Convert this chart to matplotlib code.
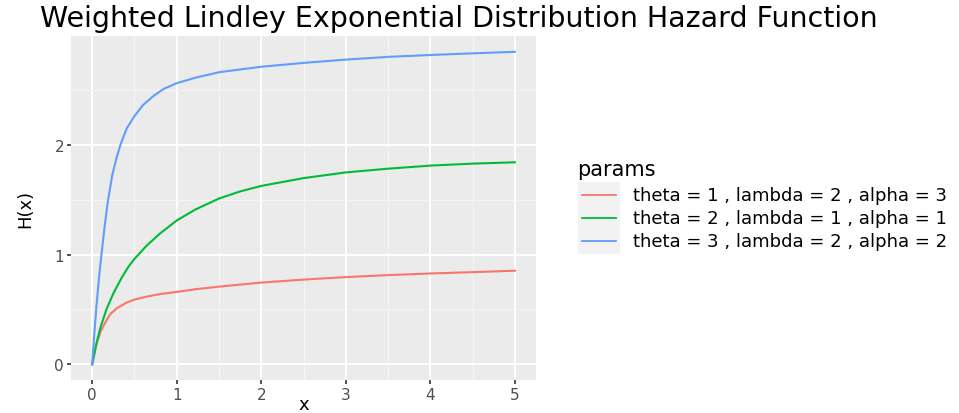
import matplotlib.pyplot as plt
from matplotlib.patches import Rectangle

# values
x_red = [0, 0.05, 0.1, 0.169, 0.217, 0.29, 0.4, 0.5, 0.643, 0.8, 1.0, 1.22,
         1.5, 2.0, 2.5, 3.0, 3.5, 4.0, 4.5, 5.0]
h_red = [0, 0.18, 0.30, 0.40, 0.46, 0.51, 0.56, 0.59, 0.617, 0.64, 0.66, 0.684,
         0.708, 0.745, 0.772, 0.795, 0.813, 0.828, 0.84, 0.853]

x_green = [0, 0.05, 0.1, 0.169, 0.25, 0.35, 0.43, 0.5, 0.643, 0.8, 1.0, 1.22,
           1.5, 1.75, 2.0, 2.5, 3.0, 3.5, 4.0, 4.5, 5.0]
h_green = [0, 0.19, 0.34, 0.50, 0.645, 0.79, 0.89, 0.96, 1.08, 1.19, 1.31, 1.41,
           1.51, 1.575, 1.625, 1.696, 1.748, 1.782, 1.81, 1.828, 1.84]

x_blue = [0, 0.02, 0.05, 0.08, 0.11, 0.15, 0.185, 0.237, 0.285, 0.335, 0.41,
          0.5, 0.6, 0.73, 0.85, 1.0, 1.22, 1.5, 2.0, 2.5, 3.0, 3.5, 4.0, 4.5, 5.0]
h_blue = [0, 0.22, 0.52, 0.78, 1.0, 1.27, 1.48, 1.72, 1.87, 2.0, 2.15,
          2.26, 2.36, 2.447, 2.51, 2.56, 2.61, 2.66, 2.71, 2.745, 2.775, 2.80,
          2.817, 2.832, 2.846]

labels = ["theta = 1 , lambda = 2 , alpha = 3",
          "theta = 2 , lambda = 1 , alpha = 1",
          "theta = 3 , lambda = 2 , alpha = 2"]
colors = ["#F8766D", "#00BA38", "#619CFF"]

plt.rcParams['font.family'] = ['DejaVu Sans']

fig = plt.figure(figsize=(9.59, 4.14), dpi=100)
ax = fig.add_axes([71 / 959, 1 - 381 / 414, 465 / 959, 344 / 414])
ax.set_facecolor("#EBEBEB")

series = [(x_red, h_red), (x_green, h_green), (x_blue, h_blue)]
for (xs, ys), c, lab in zip(series, colors, labels):
    ax.plot(xs, ys, color=c, lw=1.5, label=lab, solid_joinstyle='round')

ax.set_xlim(-0.25, 5.25)
ax.set_ylim(-0.142, 2.99)
ax.set_xticks([0, 1, 2, 3, 4, 5])
ax.set_yticks([0, 1, 2])
ax.set_xticks([0.5, 1.5, 2.5, 3.5, 4.5], minor=True)
ax.set_yticks([0.5, 1.5, 2.5], minor=True)
ax.grid(which='major', color='white', lw=1.4)
ax.grid(which='minor', color='#F5F5F5', lw=0.8)
ax.set_axisbelow(True)
for s in ax.spines.values():
    s.set_visible(False)
ax.tick_params(which='major', length=3, width=1.2, color='#333333', pad=2,
               labelcolor='#4D4D4D', labelsize=11)
ax.tick_params(which='minor', length=0)

ax.set_xlabel('x', fontsize=13, va='center')
ax.xaxis.set_label_coords(0.5, (381 - 405) / 344)
ax.set_ylabel('H(x)', fontsize=13, va='center')
ax.yaxis.set_label_coords((25 - 71) / 465, 0.5)
fig.text(40 / 959, 1 - 19 / 414, 'Weighted Lindley Exponential Distribution Hazard Function',
         fontsize=20.5, va='center', ha='left', color='black')

# legend
fig.patches.append(Rectangle((578 / 959, 1 - 255 / 414), 42 / 959, 72 / 414,
                             transform=fig.transFigure, facecolor='#F2F2F2',
                             edgecolor='none', zorder=0))
fig.text(577 / 959, 1 - 170 / 414, 'params', fontsize=15, va='center', ha='left')
for i, (c, lab) in enumerate(zip(colors, labels)):
    yy = 1 - (196 + 23 * i) / 414
    fig.add_artist(plt.Line2D([582 / 959, 616 / 959], [yy, yy], color=c, lw=1.3,
                              transform=fig.transFigure))
    fig.text(633 / 959, yy, lab, fontsize=13, va='center', ha='left', color='black')

fig.savefig('out.png', dpi=100)
